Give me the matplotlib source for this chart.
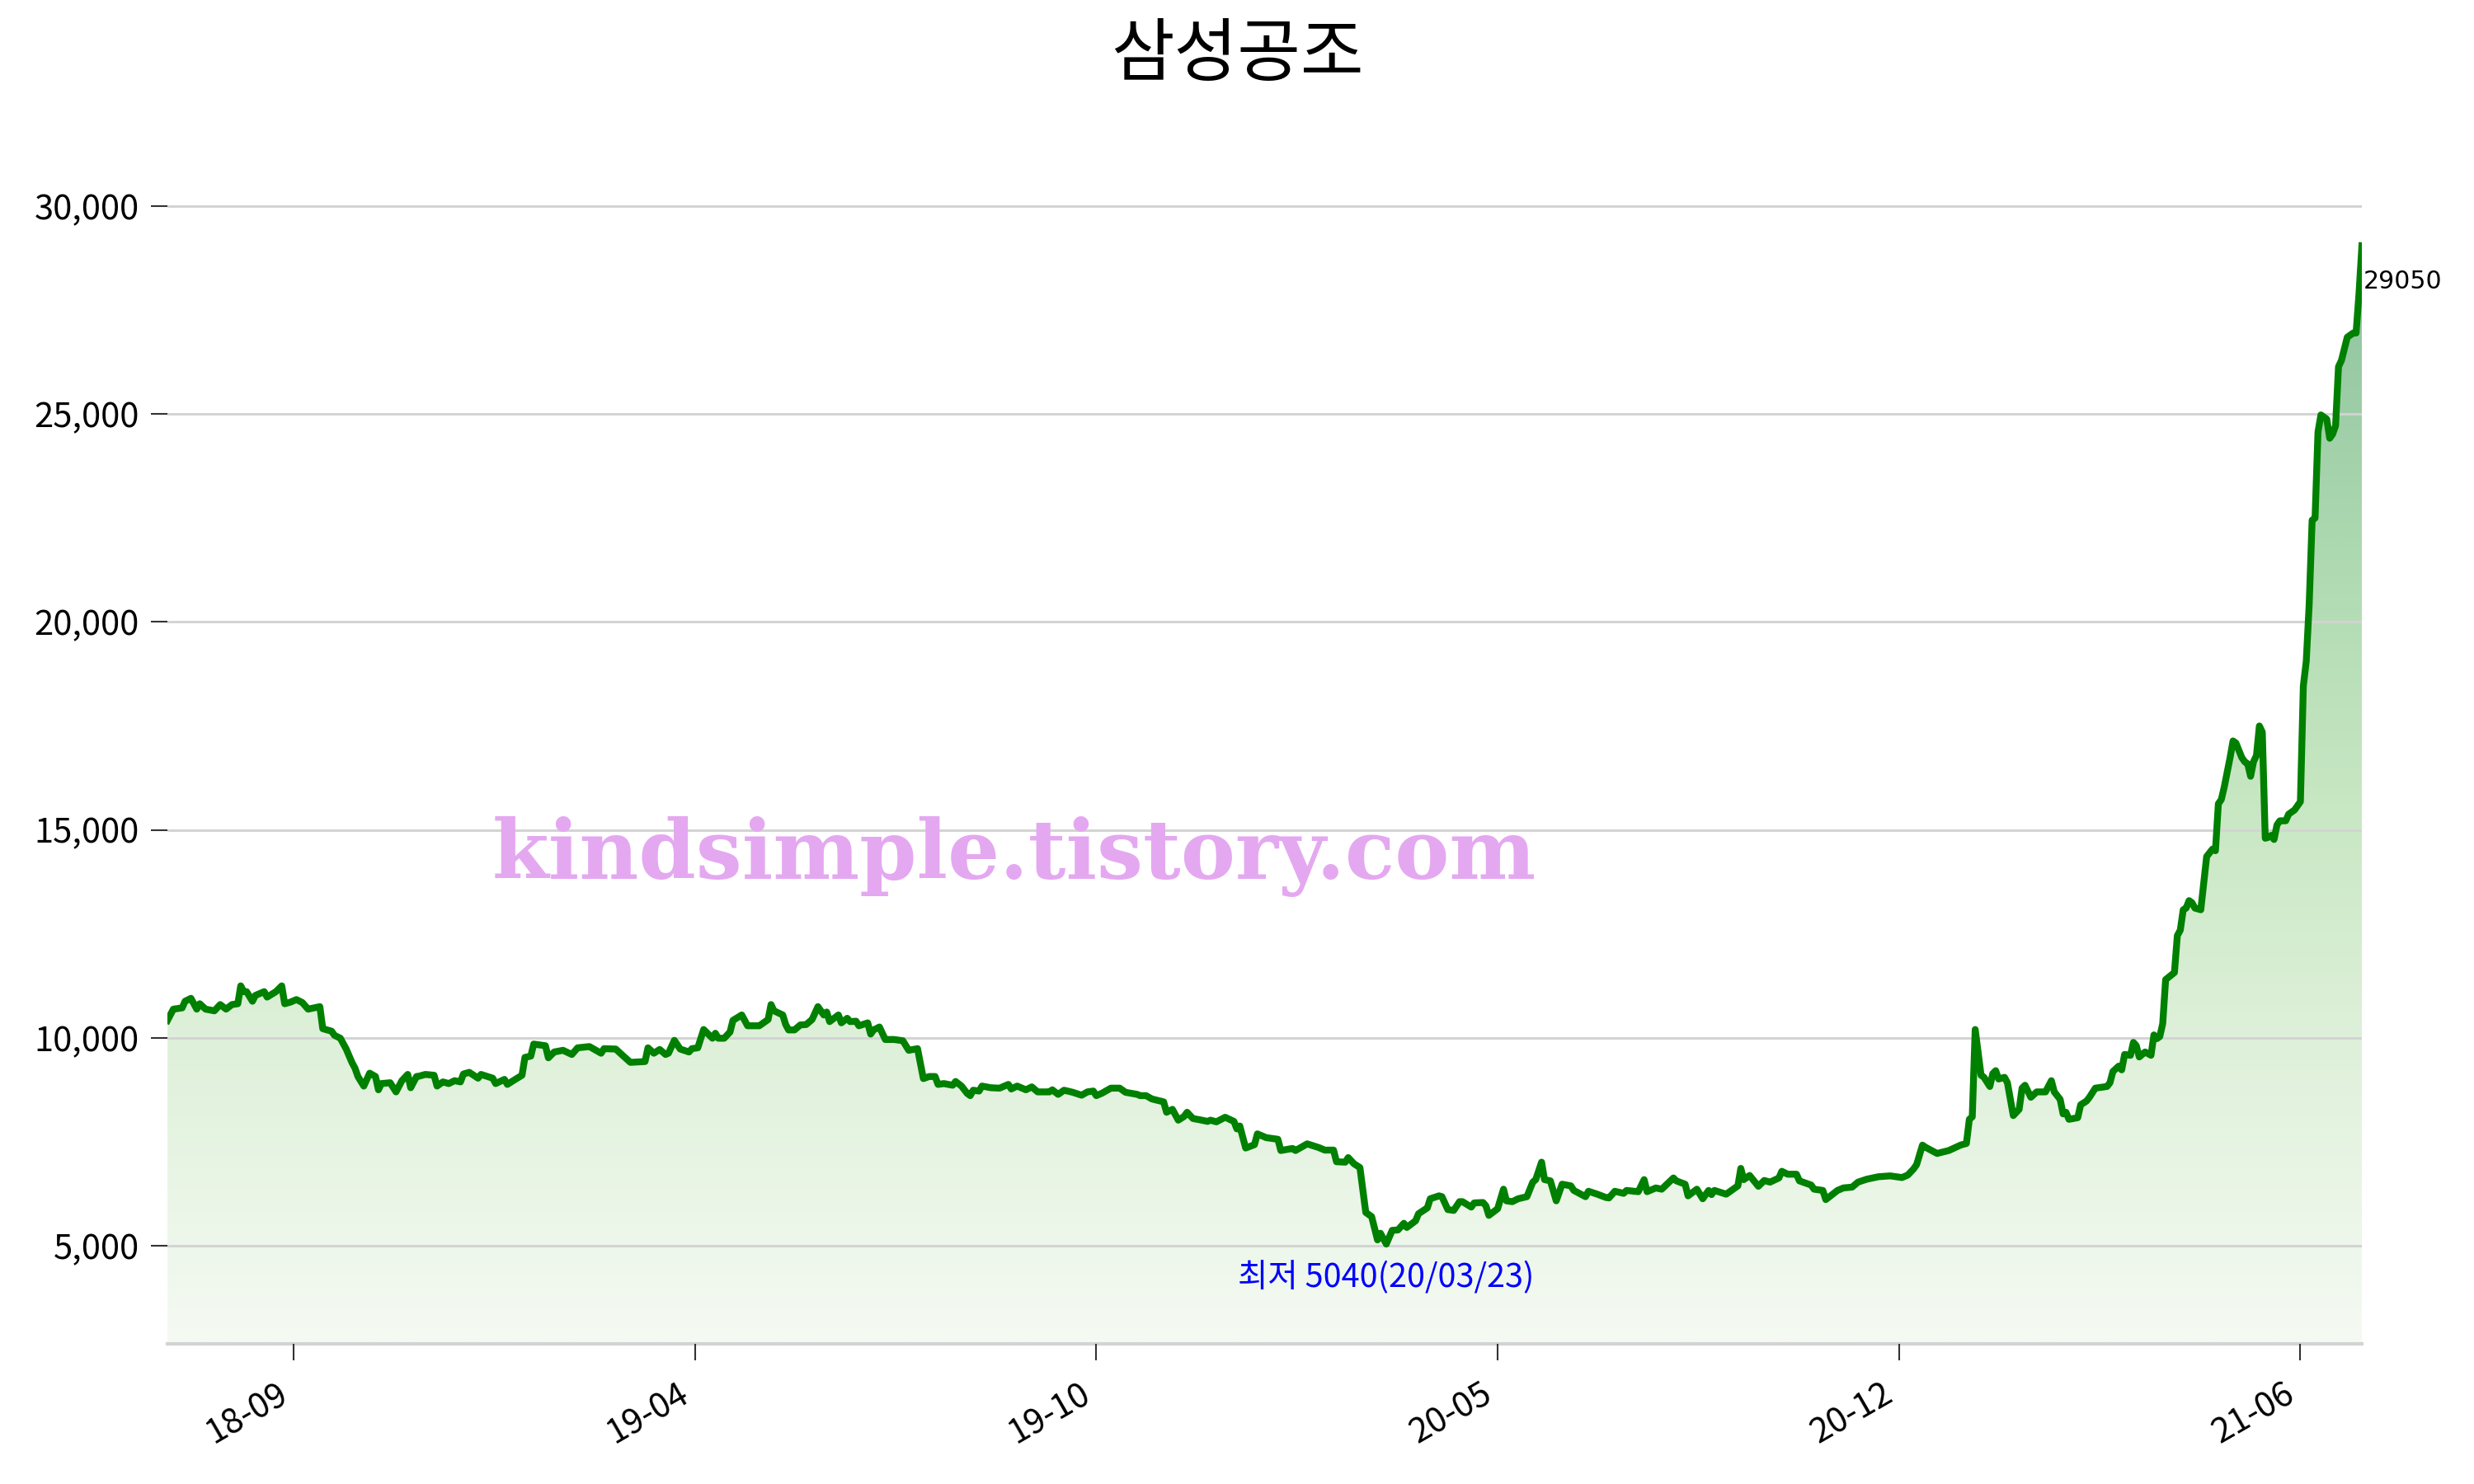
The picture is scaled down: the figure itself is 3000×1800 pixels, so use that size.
import numpy as np
import matplotlib
matplotlib.use('Agg')
import matplotlib.pyplot as plt
from matplotlib.colors import LinearSegmentedColormap
from matplotlib.patches import Polygon
from matplotlib.ticker import FuncFormatter

plt.rcParams['font.family'] = ['Noto Sans CJK KR', 'DejaVu Sans']

title = '삼성공조'
watermark = 'kindsimple.tistory.com'
min_date_label = '20/03/23'

# trading-day number and close price
day = [0, 2, 5, 6, 8, 10, 11, 13, 16, 18, 20, 22, 24, 25, 26, 27, 29, 30, 33, 34, 37, 39, 40, 42, 44, 46, 48,
       52, 53, 56, 57, 59, 61, 63, 64, 65, 67, 69, 71, 72, 73, 76, 78, 80, 82, 83, 85, 86, 88, 91, 92, 94, 96,
       98, 100, 101, 103, 106, 107, 111, 112, 115, 116, 118, 121, 122, 124, 125, 129, 130, 132, 135, 138, 140,
       144, 148, 149, 153, 155, 158, 163, 164, 166, 168, 170, 171, 173, 175, 178, 179, 181, 183, 186, 187, 188,
       190, 192, 193, 196, 198, 202, 205, 206, 207, 210, 211, 212, 214, 216, 218, 220, 222, 224, 225, 226, 229,
       230, 232, 233, 235, 236, 239, 240, 241, 243, 245, 248, 251, 253, 256, 258, 260, 262, 263, 265, 268, 269,
       271, 273, 274, 275, 277, 278, 281, 284, 287, 288, 290, 293, 295, 297, 301, 302, 304, 306, 309, 312, 314,
       316, 317, 319, 322, 325, 327, 331, 332, 334, 336, 340, 341, 343, 345, 347, 348, 350, 353, 355, 356, 358,
       361, 364, 365, 366, 368, 371, 372, 375, 379, 380, 384, 385, 389, 393, 395, 398, 399, 402, 403, 405, 407,
       409, 411, 413, 414, 416, 418, 420, 422, 423, 426, 427, 430, 431, 434, 435, 437, 439, 441, 442, 445, 446,
       449, 450, 451, 454, 456, 457, 459, 461, 464, 466, 467, 469, 470, 472, 474, 476, 479, 480, 484, 485, 488,
       491, 492, 494, 497, 498, 502, 504, 505, 508, 510, 514, 515, 518, 519, 522, 524, 526, 527, 528, 532, 536,
       537, 538, 540, 543, 545, 547, 550, 551, 553, 556, 557, 559, 561, 562, 565, 566, 568, 570, 572, 575, 577,
       580, 584, 588, 592, 594, 596, 597, 599, 600, 604, 608, 612, 614, 615, 616, 617, 619, 620, 622, 623, 624,
       625, 627, 628, 630, 632, 633, 634, 636, 638, 641, 643, 644, 646, 647, 648, 649, 652, 653, 655, 656, 658,
       662, 663, 664, 666, 667, 668, 670, 671, 672, 673, 675, 677, 678, 679, 680, 681, 682, 685, 686, 687, 688,
       689, 690, 691, 692, 694, 696, 698, 699, 700, 701, 702, 703, 704, 705, 706, 708, 709, 710, 711, 712, 713,
       714, 715, 716, 717, 718, 719, 720, 721, 723, 724, 726, 727, 728, 729, 730, 731, 732, 733, 734, 735, 737,
       738, 739, 740, 741, 742, 744, 746, 747, 748, 749]
close = [10420, 10690, 10720, 10880, 10950, 10690, 10820, 10690, 10650, 10800, 10690, 10800, 10820, 11250,
         11110, 11110, 10880, 11020, 11110, 10980, 11110, 11250, 10820, 10860, 10920, 10850, 10690, 10750,
         10220, 10160, 10060, 9990, 9730, 9400, 9270, 9070, 8840, 9150, 9070, 8750, 8900, 8920, 8700, 8970,
         9120, 8800, 9070, 9080, 9120, 9100, 8840, 8940, 8900, 8970, 8940, 9130, 9170, 9030, 9120, 9030, 8900,
         9000, 8880, 8970, 9100, 9530, 9560, 9850, 9810, 9520, 9660, 9700, 9600, 9760, 9790, 9630, 9740, 9730,
         9600, 9410, 9430, 9760, 9630, 9720, 9600, 9630, 9940, 9730, 9660, 9740, 9760, 10200, 9990, 10110,
         9990, 9990, 10140, 10420, 10550, 10290, 10290, 10440, 10800, 10650, 10550, 10320, 10190, 10190, 10310,
         10320, 10440, 10750, 10550, 10620, 10390, 10550, 10360, 10470, 10390, 10400, 10290, 10360, 10090,
         10190, 10260, 9960, 9960, 9930, 9700, 9740, 9020, 9070, 9070, 8880, 8900, 8860, 8950, 8840, 8660,
         8610, 8740, 8720, 8840, 8800, 8790, 8880, 8770, 8840, 8750, 8820, 8700, 8700, 8750, 8640, 8740, 8690,
         8620, 8700, 8720, 8610, 8670, 8790, 8790, 8690, 8640, 8610, 8610, 8530, 8460, 8210, 8280, 8020, 8110,
         8210, 8060, 8020, 7990, 8020, 7980, 8090, 7990, 7810, 7880, 7350, 7430, 7690, 7600, 7560, 7290, 7340,
         7290, 7450, 7360, 7300, 7300, 7020, 7010, 7120, 6970, 6880, 5800, 5700, 5140, 5300, 5040, 5370, 5380,
         5540, 5440, 5600, 5770, 5910, 6130, 6200, 6180, 5870, 5850, 6060, 6060, 5930, 6030, 6040, 5960, 5730,
         5890, 6360, 6080, 6060, 6130, 6180, 6530, 6590, 7010, 6590, 6560, 6080, 6480, 6440, 6330, 6180, 6310,
         6240, 6160, 6150, 6310, 6260, 6330, 6300, 6590, 6300, 6390, 6360, 6630, 6560, 6480, 6200, 6360, 6130,
         6330, 6230, 6330, 6240, 6440, 6860, 6590, 6690, 6430, 6570, 6530, 6630, 6790, 6720, 6720, 6560, 6510,
         6460, 6360, 6330, 6110, 6220, 6330, 6390, 6410, 6530, 6600, 6660, 6680, 6640, 6700, 6850, 6950, 7420,
         7370, 7220, 7290, 7420, 7460, 8040, 8100, 10200, 9100, 9050, 8830, 9140, 9210, 9010, 9050, 8920, 8130,
         8280, 8790, 8860, 8570, 8700, 8700, 8970, 8700, 8520, 8170, 8210, 8040, 8080, 8390, 8480, 8570, 8790,
         8830, 8920, 9190, 9320, 9230, 9600, 9580, 9890, 9810, 9540, 9660, 9580, 10070, 9980, 10030, 10340,
         11400, 11570, 12460, 12590, 13080, 13120, 13300, 13250, 13120, 13080, 14360, 14540, 14500, 15630,
         15730, 16030, 16390, 16740, 17140, 17090, 16740, 16640, 16590, 16290, 16640, 16790, 17500, 17350,
         14800, 14820, 14870, 14770, 15120, 15220, 15220, 15380, 15480, 15580, 15680, 18460, 19060, 20430,
         22450, 22500, 24570, 24980, 24880, 24420, 24520, 24720, 26140, 26290, 26850, 26950, 26950, 27900,
         29050]

tick_days = [43, 180, 317, 454, 591, 728]
tick_labels = ['18-09', '19-04', '19-10', '20-05', '20-12', '21-06']
yticks = [5000, 10000, 15000, 20000, 25000, 30000]

x = np.array(day, dtype=float)
y = np.array(close, dtype=float)
imin = int(np.argmin(y))
vmin, vmax = y.min(), y.max()
rng = vmax - vmin
lo, hi = vmin - 0.1 * rng, vmax + 0.1 * rng

fig = plt.figure(figsize=(10, 6), dpi=300)
ax = fig.add_axes([0.0677, 0.0944, 0.887, 0.8073])

cmap = LinearSegmentedColormap.from_list(
    'fillg', [(0.0, '#f5faf3'), (0.28, '#def0d9'), (0.49, '#c8e7c3'),
              (0.7, '#b0dbb2'), (1.0, '#8cc19d')])
grad = np.linspace(0, 1, 512).reshape(-1, 1)
im = ax.imshow(grad, aspect='auto', cmap=cmap, origin='lower',
               extent=[x[0], x[-1], lo, vmax], zorder=1, interpolation='bilinear')
verts = [(x[0], lo)] + list(zip(x, y)) + [(x[-1], lo)]
poly = Polygon(verts, closed=True, facecolor='none', edgecolor='none')
ax.add_patch(poly)
im.set_clip_path(poly)

ax.plot(x, y, color='green', lw=2.0, zorder=3, solid_joinstyle='round')

ax.set_xlim(x[0], x[-1])
ax.set_ylim(lo, hi)
ax.set_axisbelow(False)
ax.yaxis.grid(True, color='lightgray', lw=0.7)
for s in ['left', 'top', 'right']:
    ax.spines[s].set_visible(False)
ax.spines['bottom'].set_color('lightgray')
ax.spines['bottom'].set_linewidth(1.0)

ax.set_yticks(yticks)
ax.yaxis.set_major_formatter(FuncFormatter(lambda v, p: f'{v:,.0f}'))
ax.set_xticks(tick_days)
ax.set_xticklabels(tick_labels, rotation=30, ha='right')
ax.tick_params(axis='both', length=4.7, width=0.5, labelsize=10, color='#333333')
ax.tick_params(axis='x', pad=5)

ax.annotate(f'최저 {int(vmin)}({min_date_label})', xy=(x[imin], vmin), xytext=(0, -5),
            textcoords='offset points', ha='center', va='top', color='blue', fontsize=9.5)
ax.annotate(f'{int(y[-1])}', xy=(x[-1], y[-1]), xytext=(0.5, -10.5),
            textcoords='offset points', ha='left', va='center', fontsize=7.2,
            family='DejaVu Sans', annotation_clip=False)

ax.text(0.386, 0.407, watermark, transform=ax.transAxes, ha='center', va='center',
        fontsize=23.8, family='DejaVu Serif', weight='bold', color='#e4a8f0', zorder=4)

fig.text(0.5, 0.963, title, ha='center', va='center', fontsize=20)

fig.savefig('out.png', dpi=300)
